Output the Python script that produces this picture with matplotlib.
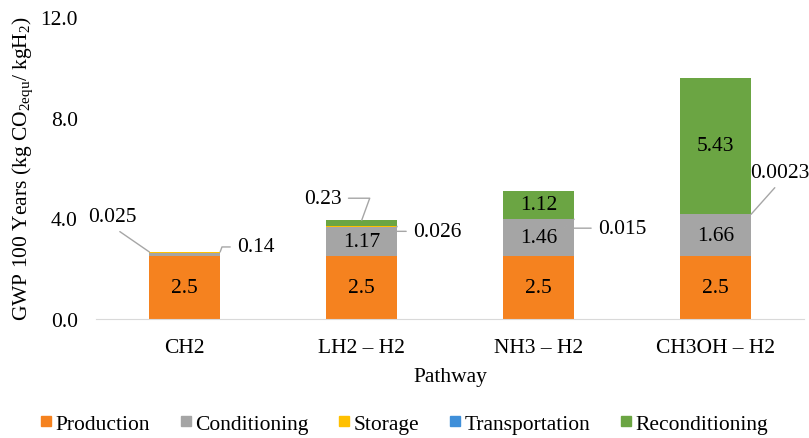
import numpy as np
import matplotlib
matplotlib.use('Agg')
import matplotlib.pyplot as plt
from matplotlib.lines import Line2D

plt.rcParams['font.family'] = ['Liberation Serif', 'DejaVu Serif']
plt.rcParams['mathtext.fontset'] = 'custom'
plt.rcParams['mathtext.rm'] = 'Liberation Serif'
plt.rcParams['mathtext.it'] = 'Liberation Serif:italic'

# Data (kg CO2eq / kg H2)
pathways = ['CH2', 'LH2 – H2', 'NH3 – H2', 'CH3OH – H2']
stages = ['Production', 'Conditioning', 'Storage', 'Transportation', 'Reconditioning']
production = [2.5, 2.5, 2.5, 2.5]
conditioning = [0.14, 1.17, 1.46, 1.66]
storage = [0.025, 0.026, 0.015, 0.0023]
transportation = [0.0, 0.0, 0.0, 0.0]
reconditioning = [0.0, 0.23, 1.12, 5.43]

colors = ['#F5821F', '#A5A5A5', '#FFC000', '#3F8FD9', '#6BA543']
series = [production, conditioning, storage, transportation, reconditioning]

fs = 15.5
fig = plt.figure(figsize=(8.09, 4.39), dpi=100)
ax = fig.add_axes([0.119, 0.271, 0.875, 0.688])

x = np.arange(len(pathways))
w = 0.40
bottom = np.zeros(len(pathways))
bottoms = []
for vals, c in zip(series, colors):
    vals = np.array(vals)
    ax.bar(x, vals, w, bottom=bottom, color=c, zorder=2)
    bottoms.append(bottom.copy())
    bottom = bottom + vals

# labels inside the bars
inside = {0: [0, 1, 2, 3], 1: [1, 2, 3], 4: [2, 3]}
for si, idx in inside.items():
    for i in idx:
        v = series[si][i]
        ax.text(x[i], bottoms[si][i] + v / 2, f'{v:g}', ha='center', va='center',
                fontsize=fs, zorder=3)

lc = '#A6A6A6'


def leader(i, y, label, dx, dy, xside, ha='left', cs='arc3', rel=(0, 0.5)):
    ax.annotate(label, xy=(x[i] + xside * w / 2, y), xytext=(dx, dy),
                textcoords='offset pixels', ha=ha, va='center', fontsize=fs,
                arrowprops=dict(arrowstyle='-', color=lc, lw=1.0, relpos=rel,
                                shrinkA=3, shrinkB=0, connectionstyle=cs))


# small values with leader lines
leader(0, bottom[0], '0.025', -37, 35, -1, ha='center', rel=(0.5, 0))
leader(0, bottom[0], '0.14', 17, 5, 1, cs='angle,angleA=0,angleB=70,rad=0')
leader(1, bottom[1], '0.23', -39, 22, 0, ha='center', rel=(1, 0.5),
       cs='angle,angleA=0,angleB=70,rad=0')
leader(1, bottoms[2][1] + storage[1] / 2, '0.026', 16, -5, 1, cs='angle,angleA=0,angleB=60,rad=0')
leader(2, bottoms[2][2] + storage[2] / 2, '0.015', 24, -9, 1, cs='angle,angleA=0,angleB=40,rad=0')
leader(3, bottoms[2][3] + storage[3] / 2, '0.0023', 29, 42, 1, ha='center', rel=(0.5, 0))

ax.set_ylim(0, 12)
ax.set_xlim(-0.5, 3.5)
ax.set_yticks([0, 4, 8, 12])
ax.set_yticklabels(['0.0', '4.0', '8.0', '12.0'])
ax.set_xticks(x)
ax.set_xticklabels(pathways)
ax.tick_params(axis='both', length=0, labelsize=fs)
ax.tick_params(axis='y', pad=13.3)
ax.tick_params(axis='x', pad=14)
for s in ['top', 'right', 'left']:
    ax.spines[s].set_visible(False)
ax.spines['bottom'].set_color('#D9D9D9')

ax.set_xlabel('Pathway', fontsize=fs, labelpad=7)
ax.set_ylabel(r'GWP 100 Years (kg CO$_{\mathrm{2equ}}$/ kgH$_{2}$)', fontsize=fs, labelpad=4)

handles = [Line2D([], [], marker='s', linestyle='none', markersize=6.5,
                  markerfacecolor=c, markeredgecolor=c) for c in colors]
fig.legend(handles, stages, loc='center', bbox_to_anchor=(0.5, 0.032), ncol=5,
           frameon=False, fontsize=fs, handlelength=0.5, handletextpad=0.2,
           columnspacing=1.4)

fig.savefig('out.png', dpi=100)
